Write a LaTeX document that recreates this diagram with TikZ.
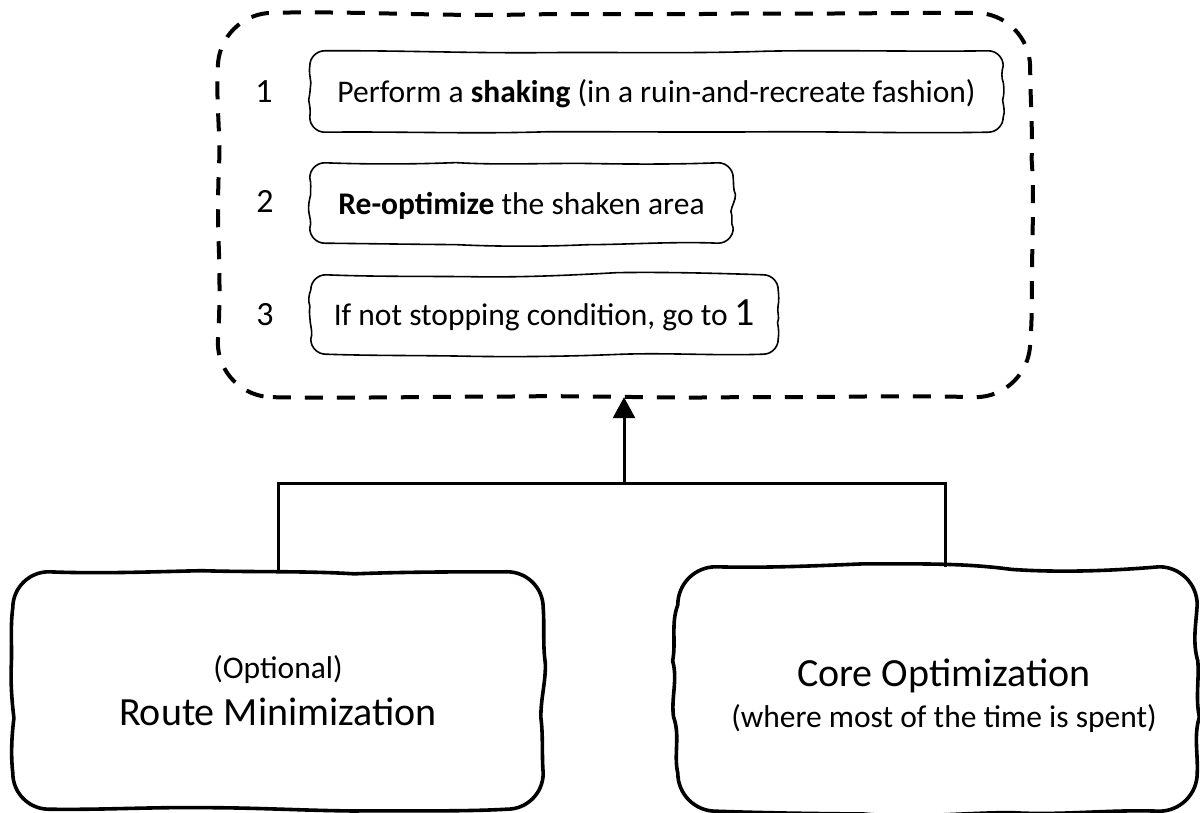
\documentclass[tikz,border=0pt]{standalone}
\usepackage{fontspec}
\setmainfont{Carlito}
\usetikzlibrary{arrows.meta}

% font sizes
\newcommand\fsm{\fontsize{31.5}{38}\selectfont}
\newcommand\fnum{\fontsize{34}{40}\selectfont}
\newcommand\fbig{\fontsize{40}{48}\selectfont}

% ---- hand-drawn rounded rectangle around a node -------------------------
\newdimen\hbd
% one wobbly cubic from the current point to (#1,#2), jitter along (#3,#4)
\newcommand\hbcurve[4]{%
  \pgfmathsetmacro\hbex{#1}\pgfmathsetmacro\hbey{#2}%
  \pgfmathsetmacro\hbra{\hbamp*rand}\pgfmathsetmacro\hbrb{\hbamp*rand}%
  \pgfmathsetmacro\hbpx{(2*\hbcx+\hbex)/3+#3*(\hbra)}%
  \pgfmathsetmacro\hbpy{(2*\hbcy+\hbey)/3+#4*(\hbra)}%
  \pgfmathsetmacro\hbqx{(\hbcx+2*\hbex)/3+#3*(\hbrb)}%
  \pgfmathsetmacro\hbqy{(\hbcy+2*\hbey)/3+#4*(\hbrb)}%
  \pgfpathcurveto{\pgfpoint{\hbpx pt}{\hbpy pt}}{\pgfpoint{\hbqx pt}{\hbqy pt}}{\pgfpoint{\hbex pt}{\hbey pt}}%
  \let\hbcx\hbex\let\hbcy\hbey}
% one side made of three wobbly pieces
\newcommand\hbside[4]{%
  \pgfmathsetmacro\hbtx{#1}\pgfmathsetmacro\hbty{#2}%
  \let\hbsx\hbcx\let\hbsy\hbcy
  \pgfmathsetmacro\hbj{\hbamp*rand}%
  \hbcurve{\hbsx+(\hbtx-\hbsx)/3+#3*(\hbj)}{\hbsy+(\hbty-\hbsy)/3+#4*(\hbj)}{#3}{#4}%
  \pgfmathsetmacro\hbj{\hbamp*rand}%
  \hbcurve{\hbsx+2*(\hbtx-\hbsx)/3+#3*(\hbj)}{\hbsy+2*(\hbty-\hbsy)/3+#4*(\hbj)}{#3}{#4}%
  \hbcurve{\hbtx}{\hbty}{#3}{#4}}
% a rounded corner through corner point (#1,#2) ending at (#3,#4)
\newcommand\hbcorner[4]{%
  \pgfmathsetmacro\hbkx{#1}\pgfmathsetmacro\hbky{#2}%
  \pgfmathsetmacro\hbex{#3}\pgfmathsetmacro\hbey{#4}%
  \pgfmathsetmacro\hbpx{\hbcx+0.552*(\hbkx-\hbcx)}%
  \pgfmathsetmacro\hbpy{\hbcy+0.552*(\hbky-\hbcy)}%
  \pgfmathsetmacro\hbqx{\hbex+0.552*(\hbkx-\hbex)}%
  \pgfmathsetmacro\hbqy{\hbey+0.552*(\hbky-\hbey)}%
  \pgfpathcurveto{\pgfpoint{\hbpx pt}{\hbpy pt}}{\pgfpoint{\hbqx pt}{\hbqy pt}}{\pgfpoint{\hbex pt}{\hbey pt}}%
  \let\hbcx\hbex\let\hbcy\hbey}
% \handbox[style]{node}{corner radius}{wobble amplitude}
\newcommand\handbox[4][]{%
  \pgfextractx{\hbd}{\pgfpointanchor{#2}{south west}}\pgfmathsetmacro\hbxa{\hbd}%
  \pgfextracty{\hbd}{\pgfpointanchor{#2}{south west}}\pgfmathsetmacro\hbya{\hbd}%
  \pgfextractx{\hbd}{\pgfpointanchor{#2}{north east}}\pgfmathsetmacro\hbxb{\hbd}%
  \pgfextracty{\hbd}{\pgfpointanchor{#2}{north east}}\pgfmathsetmacro\hbyb{\hbd}%
  \def\hbr{#3}\def\hbamp{#4}%
  \begin{scope}[#1]
    \pgfmathsetmacro\hbcx{\hbxa+\hbr}\let\hbcy\hbya
    \pgfpathmoveto{\pgfpoint{\hbcx pt}{\hbcy pt}}%
    \hbside{\hbxb-\hbr}{\hbya}{0}{1}%
    \hbcorner{\hbxb}{\hbya}{\hbxb}{\hbya+\hbr}%
    \hbside{\hbxb}{\hbyb-\hbr}{1}{0}%
    \hbcorner{\hbxb}{\hbyb}{\hbxb-\hbr}{\hbyb}%
    \hbside{\hbxa+\hbr}{\hbyb}{0}{1}%
    \hbcorner{\hbxa}{\hbyb}{\hbxa}{\hbyb-\hbr}%
    \hbside{\hbxa}{\hbya+\hbr}{1}{0}%
    \hbcorner{\hbxa}{\hbya}{\hbxa+\hbr}{\hbya}%
    \pgfpathclose
    \pgfusepath{draw}%
  \end{scope}}

\tikzset{
  stepbox/.style={inner sep=0pt, text height=23pt, text depth=0pt, font=\fsm},
  phasebox/.style={inner sep=0pt},
  numlabel/.style={anchor=base, font=\fnum},
  caption/.style={anchor=base, inner sep=0pt},
  link/.style={line width=3pt},
  thin outline/.style={line width=1.6pt, line join=round},
  thick outline/.style={line width=3.6pt, line join=round},
  loop outline/.style={line width=4pt, dash pattern=on 18pt off 14pt}
}

\begin{document}
\begin{tikzpicture}[x=1pt, y=1pt]
  \pgfmathsetseed{42}
  \useasboundingbox (0,0) rectangle (1200,812);

  % the shaking loop
  \node[phasebox, minimum width=812pt, minimum height=384pt] (loop) at (624,607) {};
  \node[stepbox, minimum width=693pt, minimum height=81pt] (s1) at (656.5,720.5)
    {Perform a \textbf{shaking} (in a ruin-and-recreate fashion)};
  \node[stepbox, minimum width=423pt, minimum height=80pt] (s2) at (521.5,609)
    {\textbf{Re-optimize} the shaken area};
  \node[stepbox, minimum width=467pt, minimum height=79pt] (s3) at (544.5,497.5)
    {If not stopping condition, go to {\fbig 1}};
  \node[numlabel] (n1) at (264,709) {1};
  \node[numlabel] (n2) at (265,599) {2};
  \node[numlabel] (n3) at (265,486) {3};

  % the two phases
  \node[phasebox, minimum width=530pt, minimum height=237pt] (rm) at (278,121.5) {};
  \node[phasebox, minimum width=519pt, minimum height=244pt] (co) at (937.5,123) {};
  \node[caption, font=\fsm] (rmsub) at (278,134) {(Optional)};
  \node[caption, font=\fbig] (rmtitle) at (278,87) {Route Minimization};
  \node[caption, font=\fbig] (cotitle) at (944,125) {Core Optimization};
  \node[caption, font=\fsm] (cosub) at (944,85) {(where most of the time is spent)};

  % outlines
  \handbox[loop outline]{loop}{55}{2.5}
  \handbox[thin outline]{s1}{15}{2.5}
  \handbox[thin outline]{s2}{15}{2.5}
  \handbox[thin outline]{s3}{15}{2.5}
  \handbox[thick outline]{rm}{36}{2.5}
  \handbox[thick outline]{co}{38}{5.5}

  % connectors
  \coordinate (join) at (624,328);
  \coordinate (cotop) at ([xshift=7.5pt]co.north);
  \draw[link] (rm.north) |- (join) -| (cotop);
  \draw[link, -{Triangle[width=22pt, length=21pt]}] (join) -- (loop.south);
\end{tikzpicture}
\end{document}
